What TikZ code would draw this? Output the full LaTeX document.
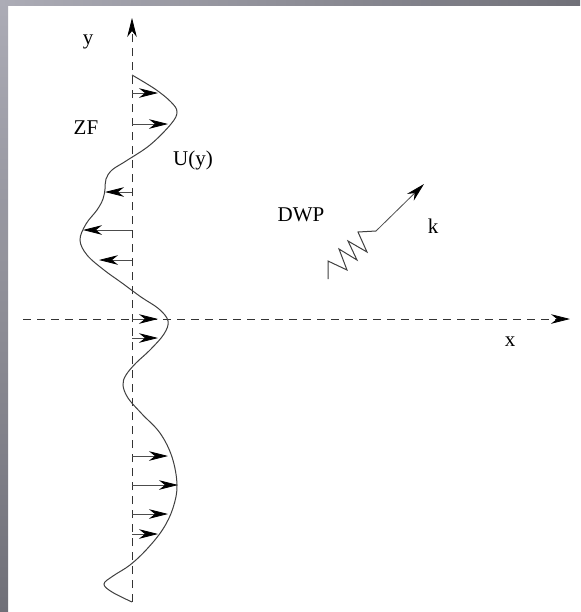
\documentclass[tikz,border=0pt]{standalone}
\usepackage{fontspec}
\setmainfont{Liberation Serif}
\usetikzlibrary{arrows.meta}

\definecolor{framelight}{RGB}{172,172,182}
\definecolor{framedark}{RGB}{112,112,120}

\begin{document}
\begin{tikzpicture}[
	x=0.5pt, y=-0.5pt,
	lbl/.style={ font=\fontsize{10.5}{12}\selectfont, inner sep=0pt },
	axis/.style={ black!80, dash pattern=on 4pt off 3pt, -{Stealth[length=9.5pt,width=4.8pt,inset=3pt,color=black]} },
	flow/.style={ black!70, -{Stealth[length=9.5pt,width=4.8pt,inset=3pt,color=black]} },
	profile/.style={ black!75, line width=0.5pt }
]

% page and frame
\fill[white] (0,0) rectangle (580,612);
\shade[top color=framelight, bottom color=framedark] (0,0) rectangle (8,612);
\shade[left color=framelight, right color=framedark] (0,0) rectangle (580,5);
\useasboundingbox (0,0) rectangle (580,612);

% axes
\coordinate (ybot) at (132,602);
\coordinate (ytop) at (132,18);
\coordinate (xleft) at (23,319);
\coordinate (xright) at (570,319);
\draw[axis] (ybot) -- (ytop);
\draw[axis] (xleft) -- (xright);

% zonal flow profile
\draw[profile] plot[smooth, tension=0.6] coordinates {
	(132,75) (155,89) (171,102) (177,112) (171,124) (150,145) (126,161) (112,170)
	(106,179) (105,189) (103,199) (97,210) (86,224) (80,240) (87,255) (104,270)
	(122,283) (141,297) (159,309) (168,321) (164,334) (150,350) (136,363) (126,375)
	(123,385) (128,398) (142,414) (160,433) (172,457) (177,485) (173,508) (163,529)
	(147,549) (130,565) (113,576) (104,584) (112,592) (132,602)
};

\foreach \yy/\tip [count=\i] in {93/158, 124/168, 192/105, 230/83, 260/99,
	319/158, 338/158, 456/168, 485/178, 514/168, 534/158} {
	\coordinate (from\i) at (132,\yy);
	\coordinate (to\i) at (\tip,\yy);
	\draw[flow] (from\i) -- (to\i);
}

% drift wave packet
\coordinate (wave) at (328,279);
\coordinate (kbase) at (376,231);
\coordinate (ktip) at (424,184);
\draw[black!75, line width=0.5pt] (wave) -- (328,261) -- (347,270) -- (339,249) -- (357,260)
	-- (348,241) -- (367,252) -- (358,232) -- (kbase);
\draw[flow] (kbase) -- (ktip);

% labels
\node at (88,42) (ylab) [lbl] {y};
\node at (510,342) (xlab) [lbl] {x};
\node at (86,128) (zf) [lbl] {ZF};
\node at (193,160) (uy) [lbl] {U(y)};
\node at (301,215) (dwp) [lbl] {DWP};
\node at (433,226) (klab) [lbl] {k};

\end{tikzpicture}
\end{document}
